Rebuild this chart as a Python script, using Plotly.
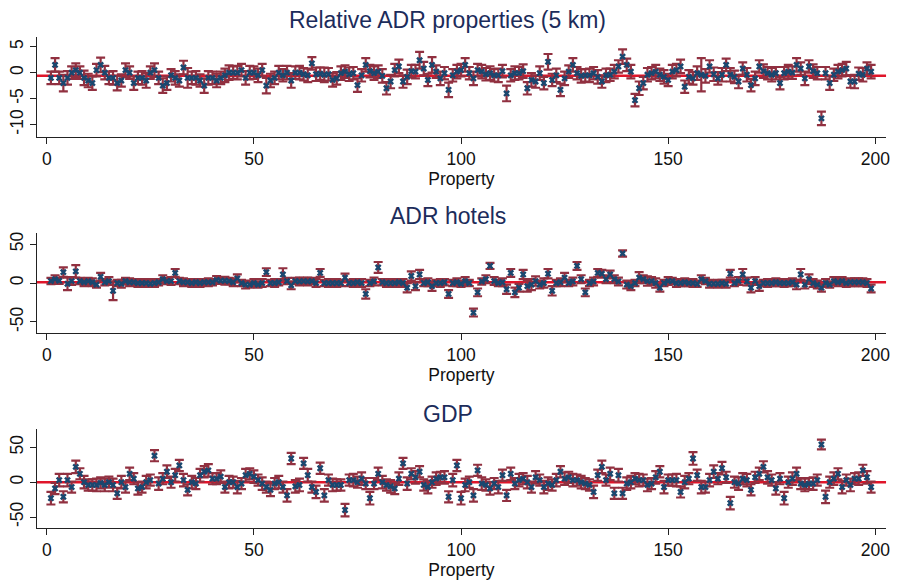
import plotly.graph_objects as go

# ---------------- data ----------------
properties = list(range(1, 200))

rel_adr = [
    -1, 1.5, -1, -2, -1, 0, 0.5, 0, -1, -1.5,
    -2, 0.5, 1.5, 0, -1, -1, -2, -1.5, 0.5, 0,
    -2, -1, -1, -1.5, 0, 0.5, -1, -2.5, -2, -0.5,
    -1, -1.5, 1, -1, -1, -1, -1.5, -2.5, -1, -1,
    -1.5, -1, -0.5, 0, 0, 0, 0.5, -1, 0, 0,
    -0.5, 0.5, -2.5, -1.5, -1, 0, -0.5, 0, -1.5, 0,
    0, -0.3, -0.5, 1.8, -0.3, -0.2, -0.4, -0.3, -1.4, -1.1,
    -0.1, 0.2, -0.3, -0.1, -2.4, -0.5, 1.5, 0.3, -0.1, 0.2,
    -0.6, -3.0, -1.7, 0.5, 1.2, -1.7, -0.8, 0.3, 0.2, 2.4,
    0.8, -1.4, 1.5, 0.2, -1.1, -0.1, -3.3, -0.5, 0.2, 0.5,
    1.5, -0.1, -1.1, 0.5, 0.2, -0.3, -0.1, -0.5, -0.5, 0.3,
    -4.0, -0.5, -0.1, -0.1, 0.3, -3.0, -1.4, -1.7, -0.1, -2.0,
    2.1, -1.4, -0.5, -3.3, -1.1, 0.2, 1.5, -0.1, -0.6, -0.5,
    -0.5, -0.1, -0.8, -1.7, -0.5, -0.4, 0.2, 1.2, 3.1, 1.5,
    0.2, -5.3, -3.0, -2.0, -0.4, -0.1, 0.2, -0.4, -0.8, -1.4,
    0.2, 0.5, 1.2, -2.7, -0.8, -1.1, -0.1, -0.4, -0.6, 1.2,
    -0.3, -1.1, -0.4, 1.5, -0.4, -0.8, -1.7, 0.8, -0.4, -2.4,
    -1.1, 1.2, 0.3, -0.1, -0.4, -0.1, -2.0, -0.1, 0.2, 0.0,
    1.5, 0.8, -1.1, 1.2, 0.3, -0.1, -8.8, -0.1, -2.0, -0.4,
    0.2, 0.5, 0.8, -1.7, -1.7, -0.2, -0.4, 0.8, 0.2,
]
rel_adr_err = [
    1.2, 1.3, 1.2, 1.6, 1.3, 1.2, 1.3, 1.2, 1.4, 1.3,
    1.3, 1.2, 1.4, 1.3, 1.2, 1.3, 1.4, 1.2, 1.3, 1.2,
    1.3, 1.2, 1.3, 1.4, 1.2, 1.3, 1.2, 1.4, 1.3, 1.2,
    1.3, 1.2, 1.3, 1.9, 1.2, 1.3, 1.2, 1.4, 1.3, 1.2,
    1.3, 1.2, 1.3, 1.4, 1.2, 1.3, 1.2, 1.3, 1.3, 1.2,
    1.3, 1.2, 1.5, 1.3, 1.2, 1.3, 1.2, 1.3, 1.4, 1.2,
    1.3, 1.2, 1.3, 1.2, 1.3, 1.2, 1.4, 1.2, 1.3, 1.2,
    1.3, 1.2, 1.3, 1.2, 1.3, 1.2, 1.3, 1.2, 1.3, 1.2,
    1.3, 1.2, 1.3, 1.2, 1.3, 1.2, 1.4, 1.2, 1.3, 1.6,
    1.3, 1.2, 1.5, 1.2, 1.3, 1.2, 1.4, 1.2, 1.3, 1.2,
    1.3, 1.2, 1.3, 1.2, 1.3, 1.2, 1.3, 1.2, 1.3, 1.2,
    1.5, 1.2, 1.3, 1.2, 1.3, 1.2, 1.3, 1.2, 1.3, 1.2,
    1.5, 1.2, 1.3, 1.2, 1.3, 1.2, 1.3, 1.2, 1.3, 1.2,
    1.3, 1.2, 1.3, 1.2, 1.3, 1.2, 1.3, 1.2, 1.4, 1.2,
    1.3, 1.2, 1.3, 1.2, 1.3, 1.2, 1.3, 1.2, 1.3, 1.2,
    1.3, 1.2, 1.3, 1.2, 1.3, 1.2, 1.3, 3.2, 1.3, 1.2,
    1.3, 1.2, 1.3, 1.2, 1.3, 1.2, 1.3, 1.2, 1.3, 1.2,
    1.3, 1.2, 1.3, 1.2, 1.3, 1.2, 1.2, 1.2, 1.3, 1.2,
    1.3, 1.2, 1.3, 1.2, 1.3, 1.2, 1.3, 1.2, 1.3, 1.2,
    1.3, 1.2, 1.3, 1.2, 1.3, 1.2, 1.3, 1.2, 1.3,
]

adr_hotels = [
    2.5, 5, 3, 14, -1, 2.5, 15, 2.5, 1, 2.5,
    1, -2, 8, 1, 2.5, -10, 0, -1, 2.5, 1,
    1, 0, 0, 0, -1, 0, 1, 5, 2.5, 2.5,
    13, 2.5, 1, 1, 0, 1, 0, 1, 1, 1,
    4, 3, 3, 2.5, 1, 6, 0, -2, -2, 0,
    -2, 0, 14, 0, 0, 1, 11, 2.5, -3, 2.5,
    2, 2.5, 2, 2.5, 0, 13, 0, 0, 0, 0,
    0, 7, 0, 0, 1, 0, -14, 0, 2, 20,
    1, 0, 0, 0, 1, 0, -6, 9, -4, 11,
    0, 1, -4, 0, 0, 1, -14, 0, 1, -1,
    2.5, 0, -38, -12, 2, 5, 22, 2.5, 0, 1,
    -8, 13, -12, -6, 11, -4, -2, 2.5, -2, 0,
    12, -10, 0, 1, 7, 0, 2, 22, 5, -12,
    0, 2, 13, 12, 5, 11, 5, 2, 38, -2,
    -4, 0, 7, 5, 2.5, 2.5, 0, -6, 0, 2.5,
    2.5, 0, 0, 1, 0, 0, -1, 5, 2.5, -1,
    -1, -1, 0, -1, 12, 0, 2.5, 11, 2, -6,
    2.5, -4, 0, 0, 0, 1, 0, 0, 0, 1,
    -2, 11, -2, 5, 0, -2, -6, 0, -2, 2.5,
    1, 2.5, 0, 1, 1, 1, 1, 0, -7,
]
adr_hotels_err = [
    4, 5, 4, 6, 8, 5, 8, 4, 5, 4,
    5, 4, 5, 4, 5, 12, 4, 5, 4, 5,
    4, 5, 4, 5, 4, 5, 4, 5, 4, 5,
    5, 4, 5, 4, 5, 4, 5, 4, 5, 4,
    5, 4, 5, 4, 5, 5, 4, 5, 4, 5,
    4, 5, 5, 4, 5, 4, 8, 4, 5, 4,
    5, 4, 5, 4, 5, 5, 4, 5, 4, 5,
    4, 5, 4, 5, 4, 5, 6, 4, 5, 7,
    4, 5, 4, 5, 4, 5, 6, 6, 5, 6,
    4, 5, 6, 4, 5, 4, 5, 4, 5, 4,
    5, 4, 5, 5, 4, 5, 4, 5, 4, 5,
    6, 5, 6, 5, 6, 7, 7, 6, 5, 6,
    6, 6, 4, 5, 6, 4, 5, 5, 5, 5,
    4, 5, 5, 5, 5, 5, 5, 5, 4, 5,
    5, 4, 7, 5, 6, 5, 6, 5, 4, 5,
    4, 5, 4, 5, 4, 5, 4, 5, 4, 5,
    4, 5, 4, 5, 5, 4, 5, 7, 5, 6,
    5, 6, 4, 5, 4, 5, 4, 5, 4, 5,
    6, 7, 5, 6, 5, 5, 5, 5, 4, 5,
    5, 5, 5, 5, 5, 5, 5, 5, 5,
]

gdp = [
    -23, -9, 3, -21, 3, -7, 22, 12, 0, -4,
    -4, -4, -1, -4, 0, -4, -16, 0, -7, 12,
    5, -9, -7, 0, 3, 38, -2, 5, 15, 0,
    10, 24, 3, -11, 0, -2, 10, 15, 17, 5,
    5, 8, -7, 0, 0, -7, -2, 10, 12, 8,
    3, -2, -7, -11, -2, 0, -7, -19, 34, -6,
    -4, 27, 10, -7, -14, 20, -19, 3, -4, -4,
    -4, -40, 3, 3, 0, 5, -2, -23, -2, 12,
    0, -4, -6, -9, 5, 27, -2, 12, 7, 15,
    -4, -7, 0, 5, 7, 7, -21, 3, 24, -23,
    -4, 0, -19, 17, -2, -4, -9, -2, -7, 10,
    -19, 12, -2, 3, 5, 0, -7, 7, 3, -7,
    -2, -4, 3, 15, 5, 7, 3, 3, 0, -2,
    -4, -14, 10, 22, 3, 12, -16, 10, -16, -2,
    0, 5, 3, 3, -4, -2, 7, 15, -7, 3,
    3, 3, -14, 0, 5, 34, 10, -7, -7, 3,
    15, 5, 20, 7, -30, 0, -2, 5, 3, -11,
    7, 12, 22, 7, 3, -9, 5, -23, 0, 5,
    12, -2, -4, -2, -2, 3, 54, -21, 0, 5,
    12, -7, 3, -4, 5, 5, 17, 7, -7,
]
gdp_err = [
    9, 8, 9, 8, 9, 8, 9, 8, 9, 8,
    8, 9, 8, 9, 8, 9, 8, 9, 8, 9,
    8, 9, 8, 9, 8, 8, 9, 8, 9, 8,
    9, 8, 9, 8, 9, 8, 9, 8, 9, 8,
    8, 9, 8, 9, 8, 9, 8, 9, 8, 9,
    8, 9, 8, 9, 8, 9, 8, 9, 8, 9,
    9, 8, 9, 8, 9, 8, 9, 8, 9, 8,
    8, 9, 8, 9, 8, 9, 8, 9, 8, 9,
    9, 8, 9, 8, 9, 8, 9, 8, 9, 8,
    8, 9, 8, 9, 8, 9, 8, 9, 8, 9,
    9, 8, 9, 8, 9, 8, 9, 8, 9, 8,
    8, 9, 8, 9, 8, 9, 8, 9, 8, 9,
    9, 8, 9, 8, 9, 8, 9, 8, 9, 8,
    8, 9, 8, 9, 8, 9, 8, 9, 8, 9,
    9, 8, 9, 8, 9, 8, 9, 8, 9, 8,
    8, 9, 8, 9, 8, 9, 8, 9, 8, 9,
    9, 8, 9, 8, 9, 8, 9, 8, 9, 8,
    8, 9, 8, 9, 8, 9, 8, 9, 8, 9,
    9, 8, 9, 8, 9, 8, 7, 9, 8, 9,
    8, 9, 8, 9, 8, 9, 8, 9, 8,
]

panel_titles = ["Relative ADR properties (5 km)", "ADR hotels", "GDP"]
mean_lines = [-0.6, 1.0, 0.0]
x_ticks = [0, 50, 100, 150, 200]
y_ticks = [[5, 0, -5, -10], [50, 0, -50], [50, 0, -50]]
y_tick_labels = [["5", "0", "-5", "-10"], ["50", "0", "-50"], ["50", "0", "-50"]]
y_ranges = [[-12.3, 6.9], [-64, 64], [-66, 77]]
x_range = [-2.4, 202.6]

# ---------------- styling ----------------
W, H = 899, 580
NAVY = "#1a476f"
CRANBERRY = "#913040"
RED = "#e0152a"
TITLE_COL = "#1c2c5b"
FONT = "Liberation Sans, Arial, sans-serif"

panel_px = [(35, 135), (232, 332), (428, 528)]
title_px = [18, 215, 413]
x_left_px, x_right_px = 37, 890

series = [(rel_adr, rel_adr_err), (adr_hotels, adr_hotels_err), (gdp, gdp_err)]

fig = go.Figure()
layout_axes = {}
for i, ((vals, errs), (top, bot)) in enumerate(zip(series, panel_px)):
    n = i + 1
    xa = "x" if n == 1 else f"x{n}"
    ya = "y" if n == 1 else f"y{n}"
    fig.add_trace(go.Scatter(
        x=properties, y=vals, xaxis=xa, yaxis=ya, mode="markers",
        marker=dict(symbol="x", size=6, color=NAVY, line=dict(width=0)),
        error_y=dict(type="data", array=errs, visible=True,
                     color=CRANBERRY, thickness=2.2, width=4.5),
        showlegend=False, hoverinfo="skip",
    ))
    fig.add_shape(type="line", xref=f"{xa} domain", x0=0, x1=1,
                  yref=ya, y0=mean_lines[i], y1=mean_lines[i],
                  line=dict(color=RED, width=2.5), layer="below")
    xkey = "xaxis" if n == 1 else f"xaxis{n}"
    ykey = "yaxis" if n == 1 else f"yaxis{n}"
    layout_axes[xkey] = dict(
        domain=[x_left_px / W, x_right_px / W], anchor=ya, range=x_range,
        tickvals=x_ticks, ticks="outside", ticklen=6, tickcolor="#222",
        showline=True, linecolor="#222", linewidth=1, showgrid=False,
        zeroline=False, ticklabeloverflow="allow",
        tickfont=dict(size=17.5, color="#111", family=FONT),
        title=dict(text="Property", font=dict(size=17.5, color="#111", family=FONT),
                   standoff=0),
    )
    layout_axes[ykey] = dict(
        domain=[1 - bot / H, 1 - top / H], anchor=xa, range=y_ranges[i],
        tickvals=y_ticks[i], ticktext=y_tick_labels[i],
        ticks="outside", ticklen=6, tickcolor="#222",
        showline=True, linecolor="#222", linewidth=1, showgrid=False,
        zeroline=False, tickangle=-90, ticklabeloverflow="allow",
        tickfont=dict(size=17.5, color="#111", family=FONT),
    )
    fig.add_annotation(text=panel_titles[i], xref="paper", yref="paper",
                       x=0.5, y=1 - title_px[i] / H, xanchor="center",
                       yanchor="middle", showarrow=False,
                       font=dict(size=23, color=TITLE_COL, family=FONT))

fig.update_layout(
    width=W, height=H, margin=dict(l=0, r=0, t=0, b=0),
    paper_bgcolor="white", plot_bgcolor="white", **layout_axes,
)

fig.write_html("out.html", config={"displayModeBar": False},
               post_script="document.body.style.margin='0';document.body.style.overflow='hidden';")
